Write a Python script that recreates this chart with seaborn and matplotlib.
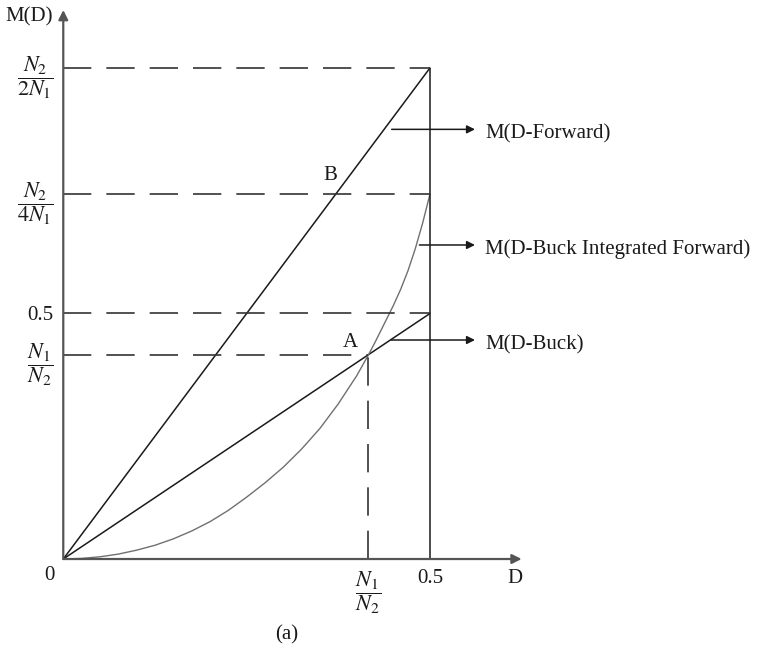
"""Voltage gain M(D) of forward, buck and buck-integrated-forward converters."""

import matplotlib
matplotlib.use("Agg")
import matplotlib.pyplot as plt
import seaborn as sns

# duty cycle / gain values
D_FORWARD = [0.0, 0.5]
M_FORWARD = [0.0, 1.0]
D_BUCK = [0.0, 0.5]
M_BUCK = [0.0, 0.5]
D_INTEGRATED = [0.0, 0.025, 0.05, 0.075, 0.1, 0.125, 0.15, 0.175, 0.2, 0.225, 0.25, 0.275,
                0.3, 0.325, 0.35, 0.375, 0.4, 0.416, 0.425, 0.45, 0.46, 0.47, 0.48, 0.49, 0.5]
M_INTEGRATED = [0.0, 0.0012, 0.0045, 0.010, 0.018, 0.028, 0.041, 0.057, 0.076, 0.099, 0.126, 0.155,
                0.187, 0.224, 0.266, 0.316, 0.373, 0.4155, 0.441, 0.516, 0.549, 0.587, 0.632, 0.684, 0.743]

N1_N2 = 0.416
Y_TICKS = [1.0, 0.743, 0.5, 0.4155]
Y_LABELS = [r"$\dfrac{N_2}{2N_1}$", r"$\dfrac{N_2}{4N_1}$", "0.5", r"$\dfrac{N_1}{N_2}$"]
X_TICKS = [N1_N2, 0.5]
X_LABELS = [r"$\dfrac{N_1}{N_2}$", "0.5"]

XMAX, YMAX = 0.625, 1.118


def main() -> None:
    sns.set_theme(style="white")
    plt.rcParams["font.family"] = ["Liberation Serif", "DejaVu Serif"]
    plt.rcParams["mathtext.fontset"] = "stix"
    fs = 15
    fs_frac = 16

    fig = plt.figure(figsize=(7.67, 6.51), dpi=100)
    ax = fig.add_axes([0.0825, 0.1413, 0.5976, 0.8433])
    ax.set_xlim(0, XMAX)
    ax.set_ylim(0, YMAX)
    for s in ax.spines.values():
        s.set_visible(False)

    ink = "#1a1a1a"
    sns.lineplot(x=D_FORWARD, y=M_FORWARD, ax=ax, color=ink, lw=1.1)
    sns.lineplot(x=D_BUCK, y=M_BUCK, ax=ax, color=ink, lw=1.1)
    sns.lineplot(x=D_INTEGRATED, y=M_INTEGRATED, ax=ax, color="#707070", lw=1.0)

    # vertical boundary at D = 0.5
    ax.vlines(0.5, 0, M_FORWARD[-1], color=ink, lw=1.1)

    # dashed guides
    dash = dict(color="#333333", lw=1.2, linestyles=(0, (17, 9)))
    for y in Y_TICKS[:3]:
        ax.hlines(y, 0, 0.5, **dash)
    ax.hlines(Y_TICKS[3], 0, N1_N2, **dash)
    ax.vlines(N1_N2, 0, Y_TICKS[3], **dash)

    # axes with arrow heads
    axis_arrow = dict(arrowstyle="-|>", lw=1.6, color="#555555", mutation_scale=14, shrinkA=0, shrinkB=0)
    ax.annotate("", xy=(XMAX, 0), xytext=(0, 0), arrowprops=axis_arrow, annotation_clip=False)
    ax.annotate("", xy=(0, YMAX), xytext=(0, 0), arrowprops=axis_arrow, annotation_clip=False)

    ax.set_yticks(Y_TICKS, Y_LABELS)
    ax.set_xticks(X_TICKS, X_LABELS)
    ax.tick_params(axis="both", length=0, pad=7, colors=ink)
    for lbl in ax.get_yticklabels() + ax.get_xticklabels():
        lbl.set_fontsize(fs_frac if "$" in lbl.get_text() else fs)
    for lbl in ax.get_xticklabels():
        lbl.set_verticalalignment("top")

    ax.text(-0.0468, 1.104, "M(D)", fontsize=fs, ha="center", va="center", color=ink)
    ax.text(0.6157, -0.0387, "D", fontsize=fs, ha="center", va="center", color=ink)
    ax.text(-0.0187, -0.0326, "0", fontsize=fs, ha="center", va="center", color=ink)
    ax.text(0.3046, -0.155, "(a)", fontsize=fs, ha="center", va="center", color=ink)
    ax.text(0.364, 0.782, "B", fontsize=fs, ha="center", va="center", color=ink)
    ax.text(0.392, 0.44, "A", fontsize=fs, ha="center", va="center", color=ink)

    # call-out arrows
    call = dict(arrowstyle="-|>", lw=1.1, color=ink, mutation_scale=12, shrinkA=0, shrinkB=0)
    callouts = [
        (0.4478, 0.875, "M(D-Forward)"),
        (0.4856, 0.6395, "M(D-Buck Integrated Forward)"),
        (0.4468, 0.446, "M(D-Buck)"),
    ]
    for x0, y, label in callouts:
        ax.annotate("", xy=(0.5614, y), xytext=(x0, y), arrowprops=call, annotation_clip=False)
        ax.text(0.575, y - 0.009, label, fontsize=fs, ha="left", va="center", color=ink)

    fig.savefig("out.png", dpi=100)
    plt.close(fig)


if __name__ == "__main__":
    main()
